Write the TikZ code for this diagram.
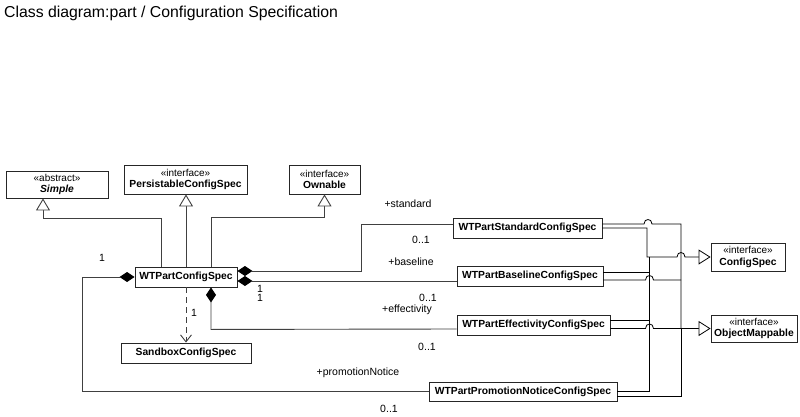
\documentclass[tikz,border=0pt]{standalone}
\usepackage{fontspec}
\setmainfont{Liberation Sans}
\usetikzlibrary{arrows.meta,calc}
\tikzset{
  cls/.style={draw=black!85, line width=0.9pt, fill=white, inner sep=0pt, align=center,
    font=\fontsize{10.3}{11.5}\selectfont\bfseries},
  lbl/.style={font=\fontsize{10.5}{12}\selectfont, inner sep=0pt},
  conn/.style={draw=black!75, line width=0.9pt},
  gen/.style={conn, -{Triangle[open, length=12pt, width=14pt, fill=white]}},
  comp/.style={conn, {Diamond[length=15pt, width=10pt, color=black]}-},
  dep/.style={conn, dash pattern=on 6pt off 4pt, -{Straight Barb[length=7pt, width=11pt]}},
  real/.style={draw=black, line width=0.8pt},
  realarrow/.style={real, -{Triangle[open, length=12pt, width=15pt, fill=white]}},
}
\newcommand{\stereo}[1]{{\fontsize{10}{11.5}\selectfont\mdseries «#1»}}
\begin{document}
\begin{tikzpicture}[x=1pt,y=-1pt]
\fill[white] (0,0) rectangle (800,417);
\useasboundingbox (0,0) rectangle (800,417);

\node[anchor=base west, font=\fontsize{15.8}{18}\selectfont, inner sep=0pt] (title) at (4,18)
  {Class diagram:part / Configuration Specification};

% classes
\node[cls, minimum width=102pt, minimum height=27pt] (simple) at (57,184.5) {\stereo{abstract}\\\textit{Simple}};
\node[cls, minimum width=123pt, minimum height=29pt] (persist) at (185.5,179.5) {\stereo{interface}\\PersistableConfigSpec};
\node[cls, minimum width=71pt, minimum height=29pt] (ownable) at (324.5,179.5) {\stereo{interface}\\Ownable};
\node[cls, minimum width=102pt, minimum height=20pt] (wtp) at (186,277) {WTPartConfigSpec};
\node[cls, minimum width=149pt, minimum height=20pt] (std) at (527.5,228) {WTPartStandardConfigSpec};
\node[cls, minimum width=146pt, minimum height=20pt] (base) at (530,276) {WTPartBaselineConfigSpec};
\node[cls, minimum width=153pt, minimum height=20pt] (eff) at (533.5,325) {WTPartEffectivityConfigSpec};
\node[cls, minimum width=188pt, minimum height=19pt] (promo) at (523,391.5) {WTPartPromotionNoticeConfigSpec};
\node[cls, minimum width=130pt, minimum height=20pt] (sandbox) at (186,353) {SandboxConfigSpec};
\node[cls, minimum width=74pt, minimum height=28pt] (configspec) at (748,257) {\stereo{interface}\\ConfigSpec};
\node[cls, minimum width=86pt, minimum height=27pt] (objmap) at (754,328.5) {\stereo{interface}\\ObjectMappable};

% generalizations
\draw[gen] ($(wtp.north)+(-25,0)$) |- ($(simple.south)+(-14,20)$) -- ($(simple.south)+(-14,0)$);
\draw[gen] (wtp.north) -- (wtp.north |- persist.south);
\draw[gen] ($(wtp.north)+(25,0)$) |- ($(ownable.south)+(0,23)$) -- (ownable.south);

% compositions
\draw[comp] ($(wtp.east)+(0,-6)$) -- ++(124,0) |- ($(std.west)+(0,-4)$);
\draw[comp] ($(wtp.east)+(0,4)$) -- ($(base.west)+(0,5)$);
\draw[comp] ($(wtp.south)+(25,0)$) -- ++(0,42) -- ($(eff.west)+(0,4)$);
\draw[comp] (wtp.west) -- ++(-52,0) |- (promo.west);

% dependency
\draw[dep] (wtp.south) -- (sandbox.north);

% realizations
\draw[realarrow] (std.east) -- (647,228) -- (647,257) -- (677,257)
  .. controls (677,251) and (685,251) .. (685,257) -- (configspec.west);
\draw[real] ($(std.east)+(0,-4)$) -- (644,224) .. controls (644,218) and (652,218) .. (652,224)
  -- (681,224) -- (681,328.5);
\draw[real] ($(base.east)+(0,-4)$) -- (649.5,272);
\draw[real] ($(base.east)+(0,4)$) -- (645.5,280) .. controls (645.5,274) and (653.5,274) .. (653.5,280) -- (681,280);
\draw[real] ($(eff.east)+(0,-5)$) -- (649.5,320);
\draw[realarrow] ($(eff.east)+(0,3.5)$) -- (645.5,328.5) .. controls (645.5,322.5) and (653.5,322.5) .. (653.5,328.5)
  -- (objmap.west);
\draw[real] (promo.east) -- (649.5,391.5) -- (649.5,257);
\draw[real] ($(promo.east)+(0,5)$) -- (681,396.5) -- (681,328.5);

% labels
\node[lbl] (l1) at (102,258) {1};
\node[lbl] (lstd) at (408,204) {+standard};
\node[lbl] (lstdm) at (421,240) {0..1};
\node[lbl] (lbase) at (411,262) {+baseline};
\node[lbl] (lw1) at (260,289) {1};
\node[lbl] (lw2) at (260,298) {1};
\node[lbl] (lbasem) at (428,298) {0..1};
\node[lbl] (leff) at (407,310) {+effectivity};
\node[lbl] (leffm) at (427,347) {0..1};
\node[lbl] (lpromo) at (358,373) {+promotionNotice};
\node[lbl] (lpromom) at (389,409) {0..1};
\node[lbl] (ldep) at (194,313) {1};
\end{tikzpicture}
\end{document}
